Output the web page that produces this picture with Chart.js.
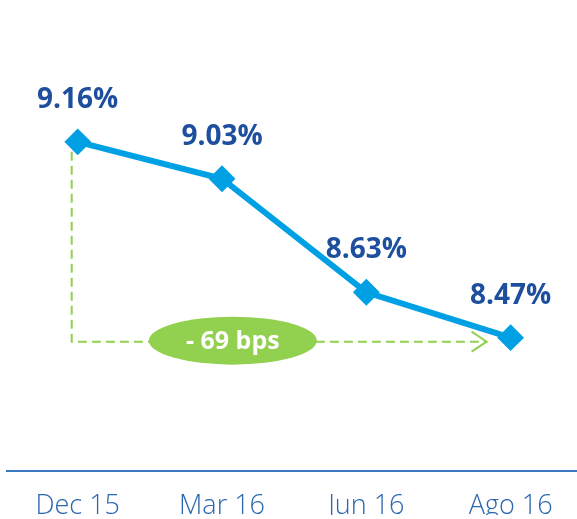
<!DOCTYPE html>
<html>
<head>
<meta charset="utf-8">
<script src="https://cdn.jsdelivr.net/npm/chart.js@4.4.1/dist/chart.umd.min.js"></script>
<style>
    html, body { margin: 0; padding: 0; background: #ffffff; overflow: hidden; }
    #wrap { width: 577px; height: 519px; position: relative; }
</style>
</head>
<body>
<div id="wrap"><canvas id="rate-chart"></canvas></div>
<script>
// Periods and rate values (%)
const periods = ['Dec 15', 'Mar 16', 'Jun 16', 'Ago 16'];
const rates = [9.16, 9.03, 8.63, 8.47];

const LINE_BLUE = '#00a0e4';
const LABEL_BLUE = '#1d4f9e';
const AXIS_BLUE = '#3a78c0';
const GREEN = '#92d050';

// Value labels above each marker
const valueLabels = {
    id: 'valueLabels',
    afterDatasetsDraw(chart) {
        const ctx = chart.ctx;
        const meta = chart.getDatasetMeta(0);
        ctx.save();
        ctx.font = 'bold 28px "Open Sans", sans-serif';
        ctx.fillStyle = LABEL_BLUE;
        ctx.textAlign = 'center';
        ctx.textBaseline = 'alphabetic';
        meta.data.forEach((pt, i) => {
            ctx.fillText(rates[i].toFixed(2) + '%', pt.x, pt.y - 34);
        });
        ctx.restore();
    }
};

// Dashed green bracket from first to last period with the bps badge
const changeBracket = {
    id: 'changeBracket',
    beforeDatasetsDraw(chart) {
        const ctx = chart.ctx;
        const xs = chart.scales.x;
        const ys = chart.scales.y;
        const first = rates[0];
        const last = rates[rates.length - 1];
        const x0 = xs.getPixelForValue(0) - 6;
        const yTop = ys.getPixelForValue(first) + 10;
        const yH = ys.getPixelForValue(last) + 4;
        const tip = xs.getPixelForValue(rates.length - 1) - 24;

        ctx.save();
        ctx.strokeStyle = GREEN;
        ctx.lineWidth = 2;
        ctx.setLineDash([9, 5]);
        ctx.beginPath();
        ctx.moveTo(x0, yTop);
        ctx.lineTo(x0, yH);
        ctx.lineTo(tip, yH);
        ctx.stroke();

        // open arrow head
        ctx.setLineDash([]);
        ctx.beginPath();
        ctx.moveTo(tip - 15, yH - 10);
        ctx.lineTo(tip, yH);
        ctx.lineTo(tip - 15, yH + 10);
        ctx.stroke();

        // badge
        const cx = xs.getPixelForValue(1.075);
        const cy = yH - 1;
        ctx.fillStyle = GREEN;
        ctx.beginPath();
        ctx.ellipse(cx, cy, 84, 24, 0, 0, Math.PI * 2);
        ctx.fill();

        const bps = Math.round((first - last) * 100);
        ctx.fillStyle = '#ffffff';
        ctx.font = 'bold 25px "Open Sans", sans-serif';
        ctx.textAlign = 'center';
        ctx.textBaseline = 'middle';
        ctx.fillText('- ' + bps + ' bps', cx, cy + 1);
        ctx.restore();
    }
};

new Chart(document.getElementById('rate-chart'), {
    type: 'line',
    data: {
        datasets: [{
            data: rates.map((v, i) => ({ x: i, y: v })),
            borderColor: LINE_BLUE,
            backgroundColor: LINE_BLUE,
            borderWidth: 6,
            pointStyle: 'rectRot',
            pointRadius: 12,
            pointBorderWidth: 2,
            pointBorderColor: LINE_BLUE,
            pointBackgroundColor: LINE_BLUE,
            tension: 0,
            clip: false
        }]
    },
    options: {
        responsive: true,
        maintainAspectRatio: false,
        animation: false,
        layout: {
            autoPadding: false,
            padding: { top: 17, right: 0, bottom: 4, left: 7 }
        },
        plugins: {
            legend: { display: false },
            tooltip: { enabled: false }
        },
        scales: {
            x: {
                type: 'linear',
                min: -0.49,
                max: 3.46,
                afterBuildTicks(scale) {
                    scale.ticks = periods.map((p, i) => ({ value: i }));
                },
                afterFit(scale) {
                    // keep a fixed band below the axis for the period labels
                    scale.paddingLeft = 0;
                    scale.paddingRight = 0;
                    scale.height = 44;
                },
                grid: { display: false, drawTicks: false },
                border: { display: true, color: AXIS_BLUE, width: 2 },
                ticks: {
                    padding: 19,
                    color: '#2b66b1',
                    font: { family: '"Open Sans", sans-serif', size: 27, weight: 300 },
                    maxRotation: 0,
                    autoSkip: false,
                    callback: (v) => periods[v]
                }
            },
            y: {
                display: false,
                min: 8,
                max: 9.6
            }
        }
    },
    plugins: [changeBracket, valueLabels]
});
</script>
</body>
</html>
